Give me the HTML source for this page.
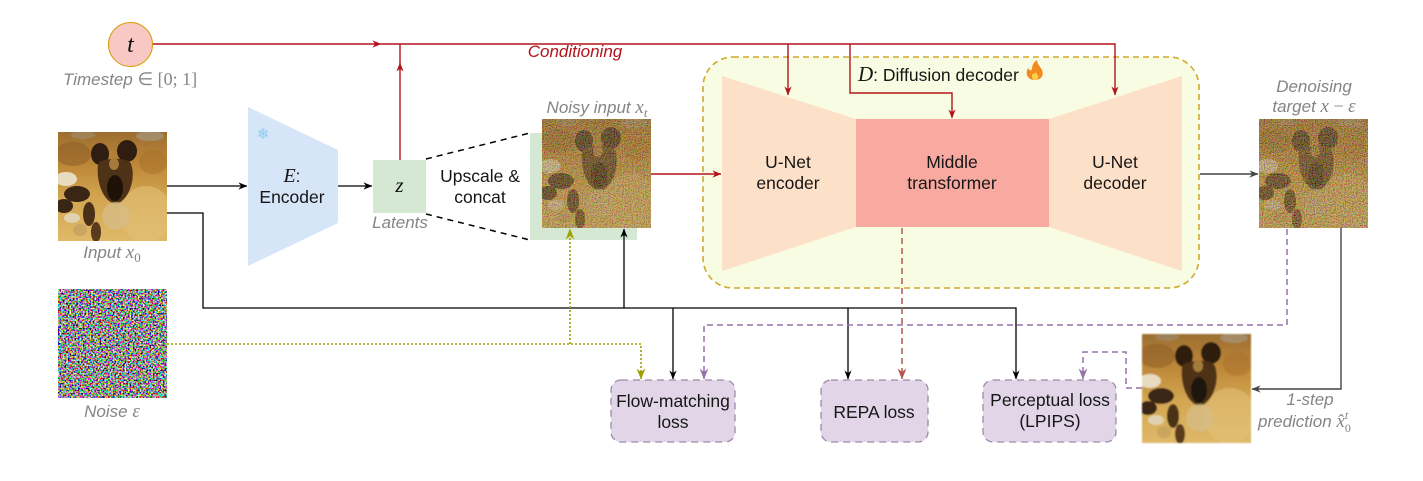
<!DOCTYPE html>
<html><head><meta charset="utf-8"><style>
html,body{margin:0;padding:0;background:#fff;}
svg{display:block}
text{font-family:"Liberation Sans",Arial,sans-serif;}
.m{font-family:"Liberation Serif",serif;font-style:italic}
.s{font-family:"Liberation Serif",serif;font-style:normal}
.g{fill:#858585;font-style:italic;font-size:17px}
.b{fill:#161616;font-size:17.5px}
</style></head><body>
<svg width="1423" height="481" viewBox="0 0 1423 481" xmlns="http://www.w3.org/2000/svg">
<defs>
 <marker id="aK" viewBox="0 0 10 10" refX="9.5" refY="5" markerWidth="9" markerHeight="9" markerUnits="userSpaceOnUse" orient="auto"><path d="M0,1 L10,5 L0,9 L3,5 z" fill="#000"/></marker>
 <marker id="aG" viewBox="0 0 10 10" refX="9.5" refY="5" markerWidth="9" markerHeight="9" markerUnits="userSpaceOnUse" orient="auto"><path d="M0,1 L10,5 L0,9 L3,5 z" fill="#444"/></marker>
 <marker id="aR" viewBox="0 0 10 10" refX="9.5" refY="5" markerWidth="9" markerHeight="9" markerUnits="userSpaceOnUse" orient="auto"><path d="M0,1 L10,5 L0,9 L3,5 z" fill="#b3141b"/></marker>
 <marker id="aP" viewBox="0 0 10 10" refX="9.5" refY="5" markerWidth="11" markerHeight="11" markerUnits="userSpaceOnUse" orient="auto"><path d="M0,1 L10,5 L0,9 L3,5 z" fill="#9673a6"/></marker>
 <marker id="aO" viewBox="0 0 10 10" refX="9.5" refY="5" markerWidth="11" markerHeight="11" markerUnits="userSpaceOnUse" orient="auto"><path d="M0,1 L10,5 L0,9 L3,5 z" fill="#a0a000"/></marker>
 <marker id="aS" viewBox="0 0 10 10" refX="9.5" refY="5" markerWidth="11" markerHeight="11" markerUnits="userSpaceOnUse" orient="auto"><path d="M0,1 L10,5 L0,9 L3,5 z" fill="#b85450"/></marker>

 <linearGradient id="bg" x1="0" y1="0" x2="0" y2="1">
  <stop offset="0" stop-color="#9c6e30"/>
  <stop offset="0.3" stop-color="#bd8738"/>
  <stop offset="0.6" stop-color="#d2a550"/>
  <stop offset="1" stop-color="#dfb968"/>
 </linearGradient>
 <clipPath id="clip"><rect x="0" y="0" width="109" height="109"/></clipPath>

 <g id="dog" clip-path="url(#clip)">
  <rect width="109" height="109" fill="url(#bg)"/>
  <ellipse cx="92" cy="4" rx="14" ry="5" fill="#a9a59a" opacity="0.5"/>
  <ellipse cx="25" cy="3" rx="12" ry="4" fill="#9e9a8e" opacity="0.4"/>
  <ellipse cx="15" cy="22" rx="18" ry="12" fill="#8a5a25" opacity="0.5"/>
  <ellipse cx="95" cy="30" rx="14" ry="12" fill="#a8702a" opacity="0.5"/>
  <ellipse cx="88" cy="82" rx="26" ry="28" fill="#e2c078" opacity="0.6"/>
  <ellipse cx="42" cy="22" rx="9" ry="11" fill="#2e1d10"/>
  <ellipse cx="69" cy="19" rx="10" ry="11" fill="#2e1d10"/>
  <path d="M40,32 C42,26 70,24 73,32 C78,45 72,68 58,72 C45,70 38,50 40,32 Z" fill="#4e3218"/>
  <ellipse cx="56" cy="32" rx="5" ry="6" fill="#a57a3c"/>
  <ellipse cx="57" cy="56" rx="8" ry="13" fill="#1e1208"/>
  <ellipse cx="58" cy="84" rx="14" ry="14" fill="#d6bc84" opacity="0.8"/>
  <ellipse cx="8" cy="47" rx="11" ry="7" fill="#e8dcc0"/>
  <ellipse cx="19" cy="62" rx="13" ry="8" fill="#3a2614"/>
  <ellipse cx="6" cy="74" rx="9" ry="7" fill="#3a2614"/>
  <ellipse cx="14" cy="86" rx="8" ry="5" fill="#e0d2b0"/>
  <ellipse cx="31" cy="82" rx="6" ry="12" fill="#4a3018"/>
  <ellipse cx="38" cy="100" rx="5" ry="10" fill="#5a3a1c"/>
  <ellipse cx="22" cy="98" rx="7" ry="6" fill="#c9a560"/>
 </g>

 <filter id="grain" x="0" y="0" width="1" height="1">
  <feTurbulence type="fractalNoise" baseFrequency="0.9" numOctaves="1" seed="3"/>
  <feColorMatrix type="matrix" values="1.6 0 0 0 -0.45  0 1.5 0 0 -0.5  0 0 1.3 0 -0.55  0 0 0 0 1"/>
 </filter>
 <filter id="cnoise" x="0" y="0" width="1" height="1">
  <feTurbulence type="fractalNoise" baseFrequency="0.6" numOctaves="1" seed="7"/>
  <feComponentTransfer>
   <feFuncR type="linear" slope="4" intercept="-1.65"/>
   <feFuncG type="linear" slope="4" intercept="-1.65"/>
   <feFuncB type="linear" slope="4" intercept="-1.65"/>
   <feFuncA type="linear" slope="0" intercept="1"/>
  </feComponentTransfer>
 </filter>
 <filter id="blur"><feGaussianBlur stdDeviation="0.8"/></filter>
</defs>

<!-- Timestep -->
<circle cx="130.5" cy="44.5" r="22" fill="#f8c9c4" stroke="#d79b00" stroke-width="1"/>
<text x="130.5" y="52" text-anchor="middle" class="m" font-size="24" fill="#111">t</text>
<text x="63" y="85" class="g">Timestep <tspan class="s" font-size="18">∈ [0; 1]</tspan></text>

<!-- Diffusion decoder container -->
<rect x="703" y="57" width="496" height="231" rx="30" ry="30" fill="#f8fce2" stroke="#d0a82a" stroke-width="1.6" stroke-dasharray="6,4"/>
<polygon points="722,76 856,119 856,227 722,271" fill="#fde0c8"/>
<polygon points="1182,76 1049,119 1049,227 1182,271" fill="#fde0c8"/>
<rect x="856" y="119" width="193" height="108" fill="#f8aaa1"/>
<text x="788" y="168" text-anchor="middle" class="b">U-Net</text>
<text x="788" y="189" text-anchor="middle" class="b">encoder</text>
<text x="952" y="168" text-anchor="middle" class="b">Middle</text>
<text x="952" y="189" text-anchor="middle" class="b">transformer</text>
<text x="1115" y="168" text-anchor="middle" class="b">U-Net</text>
<text x="1115" y="189" text-anchor="middle" class="b">decoder</text>
<text x="858" y="81" font-size="17.5" fill="#161616"><tspan class="m" font-size="21">D</tspan>: Diffusion decoder</text>
<path d="M1035,80 C1027,80 1025,73 1028,68 C1030,71 1031,71 1032,69 C1032,65 1034,62 1037,60 C1037,64 1040,66 1042,70 C1044,74 1042,80 1035,80 Z" fill="#f28a1f"/>
<path d="M1035,80 C1032,80 1031,76 1033,73 C1034,75 1035,74 1035,72 C1037,74 1039,76 1038,78 C1038,79 1037,80 1035,80 Z" fill="#fbd04a"/>

<!-- red conditioning lines -->
<g stroke="#b3141b" stroke-width="1.4" fill="none">
 <path d="M153,44 H381" marker-end="url(#aR)"/>
 <path d="M381,44 H1115 V95" marker-end="url(#aR)"/>
 <path d="M788,44 V95" marker-end="url(#aR)"/>
 <path d="M850,44 V93 H952 V118" marker-end="url(#aR)"/>
 <path d="M400,160 V63" marker-end="url(#aR)"/>
 <path d="M400,64 V44"/>
</g>
<text x="575" y="57" text-anchor="middle" font-size="17" font-style="italic" fill="#b3141b">Conditioning</text>

<!-- Input image -->
<use href="#dog" x="58" y="132"/>
<text x="112" y="258" text-anchor="middle" class="g">Input <tspan class="m" font-size="19">x</tspan><tspan class="s" font-size="13" dy="4">0</tspan></text>

<!-- Noise -->
<rect x="58" y="289" width="109" height="109" filter="url(#cnoise)" fill="#888"/>
<text x="112" y="417" text-anchor="middle" class="g">Noise <tspan class="m" font-size="19">ε</tspan></text>

<!-- Encoder -->
<polygon points="248,107 338,150 338,223 248,266" fill="#d6e5f8"/>
<text x="263" y="139" text-anchor="middle" font-size="15" fill="#8ccbf0">❄</text>
<text x="292" y="182" text-anchor="middle" fill="#161616" font-size="17.5"><tspan class="m" font-size="20">E</tspan>:</text>
<text x="292" y="203" text-anchor="middle" class="b">Encoder</text>

<!-- latents -->
<rect x="373" y="160" width="53" height="53" fill="#d5e8d4"/>
<text x="399.5" y="192" text-anchor="middle" class="m" font-size="21" fill="#111">z</text>
<text x="400" y="228" text-anchor="middle" class="g">Latents</text>

<g stroke="#000" stroke-width="1.5" stroke-dasharray="6,5" fill="none">
 <path d="M426,159 L530,133"/>
 <path d="M426,214 L530,240"/>
</g>
<text x="480" y="182" text-anchor="middle" class="b">Upscale &amp;</text>
<text x="480" y="203" text-anchor="middle" class="b">concat</text>

<!-- Noisy input -->
<rect x="530" y="133" width="107" height="107" fill="#d5e8d4"/>
<use href="#dog" x="542" y="119"/>
<rect x="542" y="119" width="109" height="109" filter="url(#grain)" opacity="0.55" fill="#777"/>
<text x="597" y="113" text-anchor="middle" class="g">Noisy input <tspan class="m" font-size="19">x</tspan><tspan class="m" font-size="13" dy="4">t</tspan></text>
<path d="M651,174 H721" stroke="#b3141b" stroke-width="1.4" fill="none" marker-end="url(#aR)"/>

<!-- Denoising target -->
<use href="#dog" x="1259" y="119"/>
<rect x="1259" y="119" width="109" height="109" filter="url(#grain)" opacity="0.6" fill="#777"/>
<text x="1314" y="92" text-anchor="middle" class="g">Denoising</text>
<text x="1314" y="112" text-anchor="middle" class="g">target <tspan class="m" font-size="19">x</tspan><tspan class="s" font-size="18"> − </tspan><tspan class="m" font-size="19">ε</tspan></text>

<!-- 1-step prediction -->
<g filter="url(#blur)"><use href="#dog" x="1142" y="334"/></g>
<text x="1310" y="405" text-anchor="middle" class="g">1-step</text>
<text x="1258" y="427" class="g">prediction <tspan class="m" font-size="19">x̂</tspan><tspan class="s" font-size="12" dy="5">0</tspan><tspan class="m" font-size="12" dx="-6" dy="-13">t</tspan></text>

<!-- black lines -->
<g stroke="#000" stroke-width="1.3" fill="none">
 <path d="M167,186 H247" marker-end="url(#aK)"/>
 <path d="M338,186 H372" marker-end="url(#aK)"/>
 <path d="M167,213 H203 V308 H1016 V379" marker-end="url(#aK)"/>
 <path d="M624,308 V229" marker-end="url(#aK)"/>
 <path d="M673,308 V379" marker-end="url(#aK)"/>
 <path d="M848,308 V379" marker-end="url(#aK)"/>
</g>
<g stroke="#444" stroke-width="1.4" fill="none">
 <path d="M1200,174 H1258" marker-end="url(#aG)"/>
 <path d="M1341,228 V389 H1252" marker-end="url(#aG)"/>
</g>

<!-- purple dashed -->
<g stroke="#9673a6" stroke-width="1.5" fill="none" stroke-dasharray="6,4">
 <path d="M1287,229 V325 H704 V379" marker-end="url(#aP)"/>
 <path d="M1142,388 H1126 V352 H1083 V379" marker-end="url(#aP)"/>
</g>

<!-- REPA dashed -->
<path d="M902,228 V379" stroke="#b85450" stroke-width="1.5" stroke-dasharray="6,4" fill="none" marker-end="url(#aS)"/>

<!-- olive dotted -->
<g stroke="#a0a000" stroke-width="1.6" fill="none" stroke-dasharray="2,2">
 <path d="M167,344 H641 V379" marker-end="url(#aO)"/>
 <path d="M570,344 V229" marker-end="url(#aO)"/>
</g>

<!-- loss boxes -->
<g fill="#e1d5e7" stroke="#9c8ba8" stroke-width="1.3" stroke-dasharray="7,5">
 <rect x="611" y="380" width="124" height="62" rx="10"/>
 <rect x="821" y="380" width="107" height="62" rx="10"/>
 <rect x="983" y="380" width="133" height="62" rx="10"/>
</g>
<text x="673" y="407" text-anchor="middle" class="b">Flow-matching</text>
<text x="673" y="428" text-anchor="middle" class="b">loss</text>
<text x="874" y="418" text-anchor="middle" class="b">REPA loss</text>
<text x="1050" y="406" text-anchor="middle" class="b">Perceptual loss</text>
<text x="1050" y="427" text-anchor="middle" class="b">(LPIPS)</text>
</svg>
</body></html>
